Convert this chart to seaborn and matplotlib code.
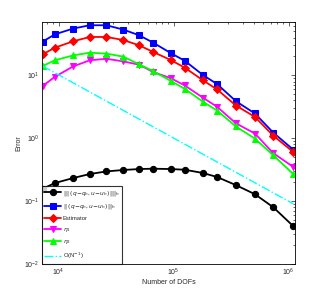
import numpy as np
import matplotlib
matplotlib.use("Agg")
import matplotlib.pyplot as plt
import pandas as pd
import seaborn as sns

dofs = [7260, 9290, 13390, 18700, 26100, 36500, 50200, 66500, 94200, 125000,
        180600, 239000, 348000, 509000, 735000, 1097000]
err_dg = [0.157, 0.194, 0.233, 0.27, 0.297, 0.313, 0.324, 0.328, 0.324, 0.316,
          0.28, 0.242, 0.18, 0.129, 0.080, 0.040]
err_h = [34.4, 45.0, 55.6, 62.8, 62.8, 53.6, 43.5, 33.2, 22.7, 17.1,
         10.1, 7.28, 3.89, 2.48, 1.23, 0.66]
estimator = [21.6, 27.6, 34.9, 40.9, 40.9, 36.6, 30.1, 23.6, 17.6, 13.3,
             8.32, 5.98, 3.32, 2.19, 1.10, 0.605]
eta1 = [6.76, 9.5, 13.9, 17.4, 18.4, 16.7, 14.8, 11.3, 9.06, 6.92,
        4.4, 3.16, 1.73, 1.19, 0.58, 0.35]
eta2 = [14.1, 17.4, 20.8, 23.0, 22.2, 19.9, 15.0, 11.7, 8.2, 6.12,
        3.8, 2.76, 1.54, 0.99, 0.536, 0.27]
ref_x = [7260, 1097000]
ref_y = [14.1, 0.0906]

labels = [r"$|||\,(q\!-\!q_h,u\!-\!u_h)\,|||_h$",
          r"$||\,(q\!-\!q_h,u\!-\!u_h)\,||_h$",
          "Estimator", r"$\eta_1$", r"$\eta_2$", r"O(N$^{-1}$)"]

sns.set_style("white")
plt.rcParams["font.family"] = ["Liberation Sans", "DejaVu Sans"]
plt.rcParams["mathtext.fontset"] = "dejavusans"

fig = plt.figure(figsize=(3.27, 3.0), dpi=100)
ax = fig.add_axes([0.128, 0.12, 0.774, 0.807])

series = [(err_dg, "black", "o", 4.5), (err_h, "blue", "s", 4.3),
          (estimator, "red", "D", 4.3), (eta1, "magenta", "v", 5),
          (eta2, "lime", "^", 5)]
for (vals, col, mk, ms), lab in zip(series, labels):
    df = pd.DataFrame({"dofs": dofs, "err": vals})
    sns.lineplot(data=df, x="dofs", y="err", ax=ax, color=col, marker=mk,
                 markersize=ms, markeredgecolor=col, linewidth=1.3, label=lab)
ref = pd.DataFrame({"dofs": ref_x, "err": ref_y})
sns.lineplot(data=ref, x="dofs", y="err", ax=ax, color="cyan",
             linestyle="-.", linewidth=1.0, label=labels[5])

ax.set_xscale("log")
ax.set_yscale("log")
ax.set_xlim(7160, 1135000)
ax.set_ylim(1e-2, 71)
ax.set_xlabel("Number of DOFs", fontsize=5, labelpad=1)
ax.set_ylabel("Error", fontsize=5, labelpad=1)
ax.tick_params(which="both", direction="in", top=True, right=True,
               labelsize=5, pad=2, width=0.5)
ax.tick_params(which="major", length=3)
ax.tick_params(which="minor", length=1.5)
for s in ax.spines.values():
    s.set_linewidth(0.6)
    s.set_color("black")

leg = ax.legend(loc="lower left", fontsize=4.2, frameon=True, fancybox=False,
                borderaxespad=0, handlelength=2.8, labelspacing=0.8,
                borderpad=0.45, handletextpad=0.35)
leg.get_frame().set_edgecolor("black")
leg.get_frame().set_linewidth(0.8)

fig.savefig("out.png", dpi=100)
